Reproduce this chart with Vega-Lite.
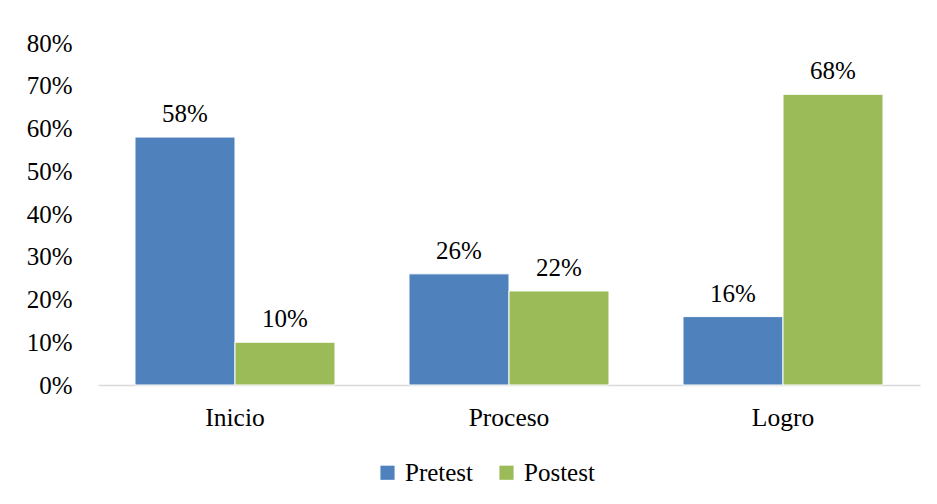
{
  "$schema": "https://vega.github.io/schema/vega-lite/v6.json",
  "width": 822,
  "height": 342,
  "autosize": {"type": "none"},
  "padding": {"left": 98, "top": 43, "right": 17, "bottom": 119},
  "background": "white",
  "config": {
    "view": {"stroke": null},
    "font": "Liberation Serif"
  },
  "data": {
    "values": [
      {"nivel": "Inicio", "prueba": "Pretest", "valor": 0.58},
      {"nivel": "Inicio", "prueba": "Postest", "valor": 0.10},
      {"nivel": "Proceso", "prueba": "Pretest", "valor": 0.26},
      {"nivel": "Proceso", "prueba": "Postest", "valor": 0.22},
      {"nivel": "Logro", "prueba": "Pretest", "valor": 0.16},
      {"nivel": "Logro", "prueba": "Postest", "valor": 0.68}
    ]
  },
  "encoding": {
    "x": {
      "field": "nivel",
      "type": "nominal",
      "sort": ["Inicio", "Proceso", "Logro"],
      "scale": {"paddingInner": 0.27, "paddingOuter": 0.135},
      "axis": {
        "title": null,
        "labelAngle": 0,
        "ticks": false,
        "labelPadding": 20,
        "labelFont": "Liberation Serif",
        "labelFontSize": 25.5,
        "labelColor": "black",
        "domainColor": "#d9d9d9",
        "domainWidth": 1.5
      }
    },
    "xOffset": {
      "field": "prueba",
      "type": "nominal",
      "sort": ["Pretest", "Postest"],
      "scale": {"paddingInner": 0, "paddingOuter": 0}
    },
    "y": {
      "field": "valor",
      "type": "quantitative",
      "scale": {"domain": [0, 0.8], "nice": false},
      "axis": {
        "title": null,
        "format": ".0%",
        "values": [0, 0.1, 0.2, 0.3, 0.4, 0.5, 0.6, 0.7, 0.8],
        "labelOverlap": false,
        "grid": false,
        "domain": false,
        "ticks": false,
        "labelPadding": 26,
        "labelFont": "Liberation Serif",
        "labelFontSize": 25,
        "labelColor": "black"
      }
    }
  },
  "layer": [
    {
      "mark": {"type": "bar", "stroke": "white", "strokeWidth": 1},
      "encoding": {
        "color": {
          "field": "prueba",
          "type": "nominal",
          "sort": ["Pretest", "Postest"],
          "scale": {"domain": ["Pretest", "Postest"], "range": ["#4f81bd", "#9bbb59"]},
          "legend": {
            "title": null,
            "orient": "none",
            "legendX": 277,
            "legendY": 417,
            "direction": "horizontal",
            "symbolType": "square",
            "symbolSize": 200,
            "symbolStrokeWidth": 0,
            "labelFont": "Liberation Serif",
            "labelFontSize": 25,
            "labelColor": "black",
            "labelOffset": 5,
            "columnPadding": 20
          }
        }
      }
    },
    {
      "mark": {
        "type": "text",
        "baseline": "alphabetic",
        "dy": -15,
        "font": "Liberation Serif",
        "fontSize": 25,
        "color": "black"
      },
      "encoding": {
        "text": {"field": "valor", "type": "quantitative", "format": ".0%"}
      }
    }
  ]
}
